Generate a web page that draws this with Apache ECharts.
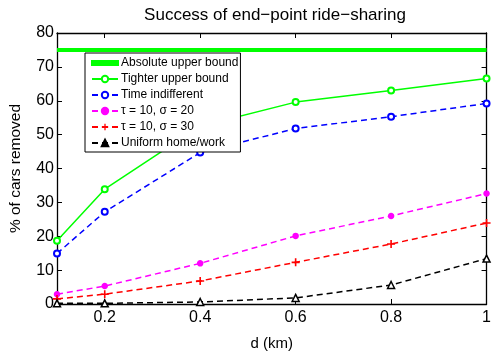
<!DOCTYPE html>
<html>
<head>
<meta charset="utf-8">
<script src="https://cdn.jsdelivr.net/npm/echarts@6/dist/echarts.min.js"></script>
<style>
  html, body { margin: 0; padding: 0; background: #fff; }
  #chart { width: 494px; height: 356px; }
</style>
</head>
<body>
<div id="chart"></div>
<script>
// d (km) sample points
const dist = [0.1, 0.2, 0.4, 0.6, 0.8, 1];
const xTicks = [0.2, 0.4, 0.6, 0.8, 1];

// % of cars removed
const absoluteBound = [75, 75, 75, 75, 75, 75];
const tighterBound = [18.7, 33.9, 52.5, 59.6, 63.0, 66.6];
const timeIndifferent = [14.9, 27.2, 44.7, 51.8, 55.3, 59.2];
const tau10sigma20 = [2.9, 5.3, 12.0, 20.1, 26.0, 32.6];
const tau10sigma30 = [1.5, 2.9, 6.8, 12.3, 17.7, 23.9];
const uniformHomeWork = [0.2, 0.2, 0.6, 1.8, 5.6, 13.4];

const seriesNames = [
  'Absolute upper bound',
  'Tighter upper bound',
  'Time indifferent',
  'τ = 10, σ = 20',
  'τ = 10, σ = 30',
  'Uniform home/work'
];

const FONT = 'Liberation Sans, Arial, Helvetica, sans-serif';
const plus = 'path://M4,0H6V4H10V6H6V10H4V6H0V4H4Z';

function pairs(ys) {
  return dist.map((x, i) => [x, ys[i]]);
}

function lineSeries(name, ys, color, opts) {
  return Object.assign({
    name: name,
    type: 'line',
    xAxisIndex: 0,
    yAxisIndex: 0,
    data: pairs(ys),
    symbol: 'emptyCircle',
    symbolSize: 6,
    lineStyle: { color: color, width: 1.5, type: [6, 4] },
    itemStyle: { color: color, borderColor: color, borderWidth: 1.5 },
    emphasis: { disabled: true },
    animation: false
  }, opts);
}

const tickStyle = { inside: true, length: 5, lineStyle: { color: '#000', width: 1 } };
const axisLine = { show: true, onZero: false, lineStyle: { color: '#000', width: 1.3 } };

// legend entries: the thick bound gets a plain bar icon, the triangle is drawn solid
const legendData = [
  { name: seriesNames[0], icon: 'path://M0,0H26V4H0Z', itemStyle: { color: '#00ff00' } },
  { name: seriesNames[1] },
  { name: seriesNames[2] },
  { name: seriesNames[3] },
  { name: seriesNames[4] },
  { name: seriesNames[5], itemStyle: { color: '#000' } }
];

const option = {
  backgroundColor: '#fff',
  animation: false,
  title: {
    text: 'Success of end\u2212point ride\u2212sharing',
    left: 270,
    top: 2,
    textAlign: 'center',
    textStyle: { fontFamily: FONT, fontSize: 17, fontWeight: 'normal', color: '#000' }
  },
  legend: {
    data: legendData,
    orient: 'vertical',
    left: 85,
    top: 53,
    itemWidth: 26,
    itemHeight: 8,
    itemGap: 4,
    padding: [4, 2, 3, 6],
    backgroundColor: '#fff',
    borderColor: '#000',
    borderWidth: 1,
    borderRadius: 0,
    textStyle: { fontFamily: FONT, fontSize: 12, lineHeight: 12, color: '#000', padding: [0, 0, 0, -2] },
    selectedMode: false
  },
  grid: { left: 48, right: 2, top: 33, bottom: 43 },
  xAxis: [
    {
      type: 'value',
      min: 0.1,
      max: 1,
      name: 'd (km)',
      nameLocation: 'middle',
      nameGap: 32,
      nameTextStyle: { fontFamily: FONT, fontSize: 15, color: '#000' },
      axisLine: axisLine,
      axisTick: Object.assign({ customValues: xTicks }, tickStyle),
      axisLabel: {
        customValues: xTicks,
        fontFamily: FONT, fontSize: 16, color: '#000', margin: 6,
        formatter: v => String(+v.toFixed(1))
      },
      splitLine: { show: false }
    },
    {
      type: 'value',
      position: 'top',
      min: 0.1,
      max: 1,
      axisLine: axisLine,
      axisTick: Object.assign({ customValues: xTicks }, tickStyle),
      axisLabel: { show: false },
      splitLine: { show: false }
    }
  ],
  yAxis: [
    {
      type: 'value',
      min: 0,
      max: 80,
      interval: 10,
      name: '% of cars removed',
      nameLocation: 'middle',
      nameGap: 33,
      nameTextStyle: { fontFamily: FONT, fontSize: 15.5, color: '#000' },
      axisLine: axisLine,
      axisTick: tickStyle,
      axisLabel: { fontFamily: FONT, fontSize: 16, color: '#000', margin: 3 },
      splitLine: { show: false }
    },
    {
      type: 'value',
      position: 'right',
      min: 0,
      max: 80,
      interval: 10,
      axisLine: axisLine,
      axisTick: tickStyle,
      axisLabel: { show: false },
      splitLine: { show: false }
    }
  ],
  series: [
    lineSeries(seriesNames[0], absoluteBound, '#00ff00', {
      symbol: 'none',
      lineStyle: { color: '#00ff00', width: 4, type: 'solid' }
    }),
    lineSeries(seriesNames[1], tighterBound, '#00ff00', {
      lineStyle: { color: '#00ff00', width: 1.5, type: 'solid' }
    }),
    lineSeries(seriesNames[2], timeIndifferent, '#0000ff', {}),
    lineSeries(seriesNames[3], tau10sigma20, '#ff00ff', {
      symbol: 'circle',
      symbolSize: 5
    }),
    lineSeries(seriesNames[4], tau10sigma30, '#ff0000', {
      symbol: plus,
      symbolSize: 8,
      itemStyle: { color: '#ff0000', borderWidth: 0 }
    }),
    lineSeries(seriesNames[5], uniformHomeWork, '#000000', {
      symbol: 'triangle',
      symbolSize: 7,
      itemStyle: { color: '#fff', borderColor: '#000', borderWidth: 1.5 }
    })
  ]
};

const chart = echarts.init(document.getElementById('chart'), null, { renderer: 'canvas' });
chart.setOption(option);
</script>
</body>
</html>
